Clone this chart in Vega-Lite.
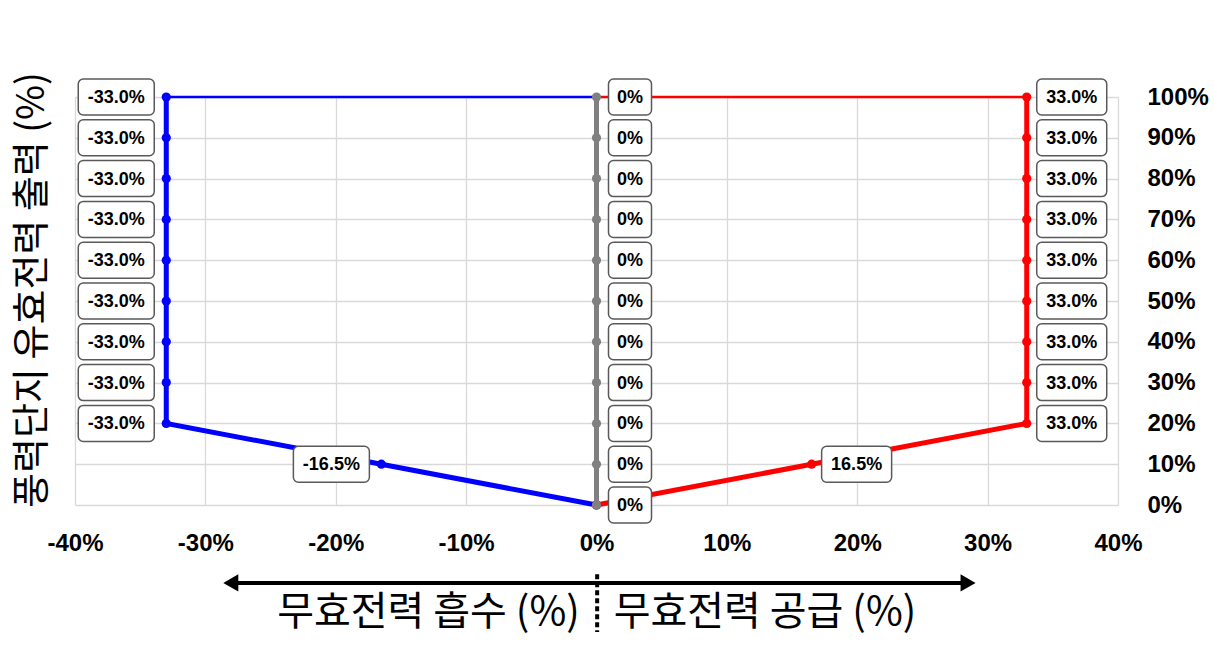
{
  "$schema": "https://vega.github.io/schema/vega-lite/v6.json",
  "width": 1043,
  "height": 408,
  "autosize": {"type": "none"},
  "padding": {"left": 75, "top": 97, "right": 96, "bottom": 140},
  "background": "white",
  "config": {
    "view": {"stroke": null},
    "locale": {"number": {"decimal": ".", "thousands": ",", "grouping": [3], "currency": ["$", ""], "minus": "-"}}
  },
  "datasets": {
    "pts": [
      {"series": "absorb", "p": 0.0, "q": 0.0},
      {"series": "absorb", "p": 0.1, "q": -0.165},
      {"series": "absorb", "p": 0.2, "q": -0.33},
      {"series": "absorb", "p": 0.3, "q": -0.33},
      {"series": "absorb", "p": 0.4, "q": -0.33},
      {"series": "absorb", "p": 0.5, "q": -0.33},
      {"series": "absorb", "p": 0.6, "q": -0.33},
      {"series": "absorb", "p": 0.7, "q": -0.33},
      {"series": "absorb", "p": 0.8, "q": -0.33},
      {"series": "absorb", "p": 0.9, "q": -0.33},
      {"series": "absorb", "p": 1.0, "q": -0.33},
      {"series": "supply", "p": 0.0, "q": 0.0},
      {"series": "supply", "p": 0.1, "q": 0.165},
      {"series": "supply", "p": 0.2, "q": 0.33},
      {"series": "supply", "p": 0.3, "q": 0.33},
      {"series": "supply", "p": 0.4, "q": 0.33},
      {"series": "supply", "p": 0.5, "q": 0.33},
      {"series": "supply", "p": 0.6, "q": 0.33},
      {"series": "supply", "p": 0.7, "q": 0.33},
      {"series": "supply", "p": 0.8, "q": 0.33},
      {"series": "supply", "p": 0.9, "q": 0.33},
      {"series": "supply", "p": 1.0, "q": 0.33},
      {"series": "zero", "p": 0.0, "q": 0.0},
      {"series": "zero", "p": 0.1, "q": 0.0},
      {"series": "zero", "p": 0.2, "q": 0.0},
      {"series": "zero", "p": 0.3, "q": 0.0},
      {"series": "zero", "p": 0.4, "q": 0.0},
      {"series": "zero", "p": 0.5, "q": 0.0},
      {"series": "zero", "p": 0.6, "q": 0.0},
      {"series": "zero", "p": 0.7, "q": 0.0},
      {"series": "zero", "p": 0.8, "q": 0.0},
      {"series": "zero", "p": 0.9, "q": 0.0},
      {"series": "zero", "p": 1.0, "q": 0.0}
    ],
    "tops": [
      {"series": "absorb", "q": -0.33, "q2": 0.0, "p": 1.0},
      {"series": "supply", "q": 0.33, "q2": 0.0, "p": 1.0}
    ],
    "arrow": [{"q": -0.282, "q2": 0.286, "p": -0.191}],
    "heads": [
      {"side": "left", "q": -0.2805, "p": -0.191},
      {"side": "right", "q": 0.2850, "p": -0.191}
    ],
    "sep": [{"q": 0.0005, "p": -0.170, "p2": -0.311}],
    "xtitles": [
      {"t": "무효전력 흡수 (%)", "q": -0.1289, "p": -0.264},
      {"t": "무효전력 공급 (%)", "q": 0.1292, "p": -0.264}
    ],
    "ytitle": [{"t": "풍력단지 유효전력 출력 (%)", "q": -0.4325, "p": 0.527}]
  },
  "data": {"name": "pts"},
  "encoding": {
    "x": {
      "field": "q", "type": "quantitative",
      "scale": {"domain": [-0.4, 0.4], "nice": false, "zero": false},
      "axis": {
        "orient": "bottom", "title": null,
        "values": [-0.4, -0.3, -0.2, -0.1, 0, 0.1, 0.2, 0.3, 0.4],
        "format": ".0%", "labelFont": "Liberation Sans", "labelFontSize": 24, "labelFontWeight": "bold",
        "labelColor": "black", "ticks": false, "domain": false, "labelPadding": 26,
        "labelFlush": false, "labelOverlap": false,
        "gridColor": "#d9d9d9", "gridWidth": 1.3
      }
    },
    "y": {
      "field": "p", "type": "quantitative",
      "scale": {"domain": [0, 1], "nice": false, "zero": false},
      "axis": {
        "orient": "right", "title": null,
        "values": [0, 0.1, 0.2, 0.3, 0.4, 0.5, 0.6, 0.7, 0.8, 0.9, 1],
        "format": ".0%", "labelFont": "Liberation Sans", "labelFontSize": 24, "labelFontWeight": "bold",
        "labelColor": "black", "ticks": false, "domain": false, "labelPadding": 29,
        "labelAlign": "left", "labelBaseline": "middle", "labelFlush": false, "labelOverlap": false,
        "gridColor": "#d9d9d9", "gridWidth": 1.3
      }
    }
  },
  "layer": [
    {
      "data": {"name": "tops"},
      "mark": {"type": "rule", "strokeWidth": 2.5},
      "encoding": {
        "x2": {"field": "q2"},
        "color": {"field": "series", "type": "nominal", "scale": {"domain": ["absorb", "supply"], "range": ["#0000ff", "#ff0000"]}, "legend": null}
      }
    },
    {
      "transform": [{"filter": "datum.series == 'absorb'"}],
      "mark": {"type": "line", "color": "#0000ff", "strokeWidth": 5},
      "encoding": {"order": {"field": "p", "type": "quantitative"}}
    },
    {
      "transform": [{"filter": "datum.series == 'supply'"}],
      "mark": {"type": "line", "color": "#ff0000", "strokeWidth": 5},
      "encoding": {"order": {"field": "p", "type": "quantitative"}}
    },
    {
      "transform": [{"filter": "datum.series == 'absorb'"}],
      "mark": {"type": "point", "shape": "circle", "filled": true, "opacity": 1, "color": "#0000ff", "size": 85}
    },
    {
      "transform": [{"filter": "datum.series == 'supply'"}],
      "mark": {"type": "point", "shape": "circle", "filled": true, "opacity": 1, "color": "#ff0000", "size": 85}
    },
    {
      "transform": [{"filter": "datum.series == 'zero'"}],
      "mark": {"type": "line", "color": "#808080", "strokeWidth": 5},
      "encoding": {"order": {"field": "p", "type": "quantitative"}}
    },
    {
      "transform": [{"filter": "datum.series == 'zero'"}],
      "mark": {"type": "point", "shape": "circle", "filled": true, "opacity": 1, "color": "#808080", "size": 85}
    },
    {
      "transform": [{"filter": "datum.series == 'absorb' && datum.p >= 0.1"}],
      "mark": {"type": "rect", "fill": "white", "stroke": "#595959", "strokeWidth": 1.5, "cornerRadius": 5,
               "xOffset": -88, "x2Offset": -12, "yOffset": -18, "y2Offset": 18},
      "encoding": {"x2": {"field": "q"}, "y2": {"field": "p"}}
    },
    {
      "transform": [{"filter": "datum.series == 'absorb' && datum.p >= 0.1"}],
      "mark": {"type": "text", "font": "Liberation Sans", "fontSize": 18, "fontWeight": "bold", "color": "black",
               "align": "center", "baseline": "middle", "xOffset": -50, "yOffset": 1},
      "encoding": {"text": {"field": "q", "type": "quantitative", "format": ".1%"}}
    },
    {
      "transform": [{"filter": "datum.series == 'supply' && datum.p >= 0.1"}],
      "mark": {"type": "rect", "fill": "white", "stroke": "#595959", "strokeWidth": 1.5, "cornerRadius": 5,
               "xOffset": 10, "x2Offset": 80, "yOffset": -18, "y2Offset": 18},
      "encoding": {"x2": {"field": "q"}, "y2": {"field": "p"}}
    },
    {
      "transform": [{"filter": "datum.series == 'supply' && datum.p >= 0.1"}],
      "mark": {"type": "text", "font": "Liberation Sans", "fontSize": 18, "fontWeight": "bold", "color": "black",
               "align": "center", "baseline": "middle", "xOffset": 45, "yOffset": 1},
      "encoding": {"text": {"field": "q", "type": "quantitative", "format": ".1%"}}
    },
    {
      "transform": [{"filter": "datum.series == 'zero'"}],
      "mark": {"type": "rect", "fill": "white", "stroke": "#595959", "strokeWidth": 1.5, "cornerRadius": 5,
               "xOffset": 12, "x2Offset": 55, "yOffset": -18, "y2Offset": 18},
      "encoding": {"x2": {"field": "q"}, "y2": {"field": "p"}}
    },
    {
      "transform": [{"filter": "datum.series == 'zero'"}],
      "mark": {"type": "text", "font": "Liberation Sans", "fontSize": 18, "fontWeight": "bold", "color": "black",
               "align": "center", "baseline": "middle", "xOffset": 33.5, "yOffset": 1},
      "encoding": {"text": {"field": "q", "type": "quantitative", "format": ".0%"}}
    },
    {
      "data": {"name": "arrow"},
      "mark": {"type": "rule", "color": "black", "strokeWidth": 4},
      "encoding": {"x2": {"field": "q2"}}
    },
    {
      "data": {"name": "heads"},
      "mark": {"type": "point", "filled": true, "opacity": 1, "color": "black", "size": 300},
      "encoding": {
        "shape": {"field": "side", "type": "nominal", "scale": {"domain": ["left", "right"], "range": ["triangle-left", "triangle-right"]}, "legend": null}
      }
    },
    {
      "data": {"name": "sep"},
      "mark": {"type": "rule", "color": "black", "strokeWidth": 4, "strokeDash": [5, 3]},
      "encoding": {"y2": {"field": "p2"}}
    },
    {
      "data": {"name": "xtitles"},
      "mark": {"type": "text", "font": "Noto Sans CJK KR", "fontSize": 40, "color": "black", "align": "center", "baseline": "middle"},
      "encoding": {"text": {"field": "t", "type": "nominal"}}
    },
    {
      "data": {"name": "ytitle"},
      "mark": {"type": "text", "font": "Noto Sans CJK KR", "fontSize": 38, "color": "black", "align": "center", "baseline": "middle", "angle": 270},
      "encoding": {"text": {"field": "t", "type": "nominal"}}
    }
  ]
}
